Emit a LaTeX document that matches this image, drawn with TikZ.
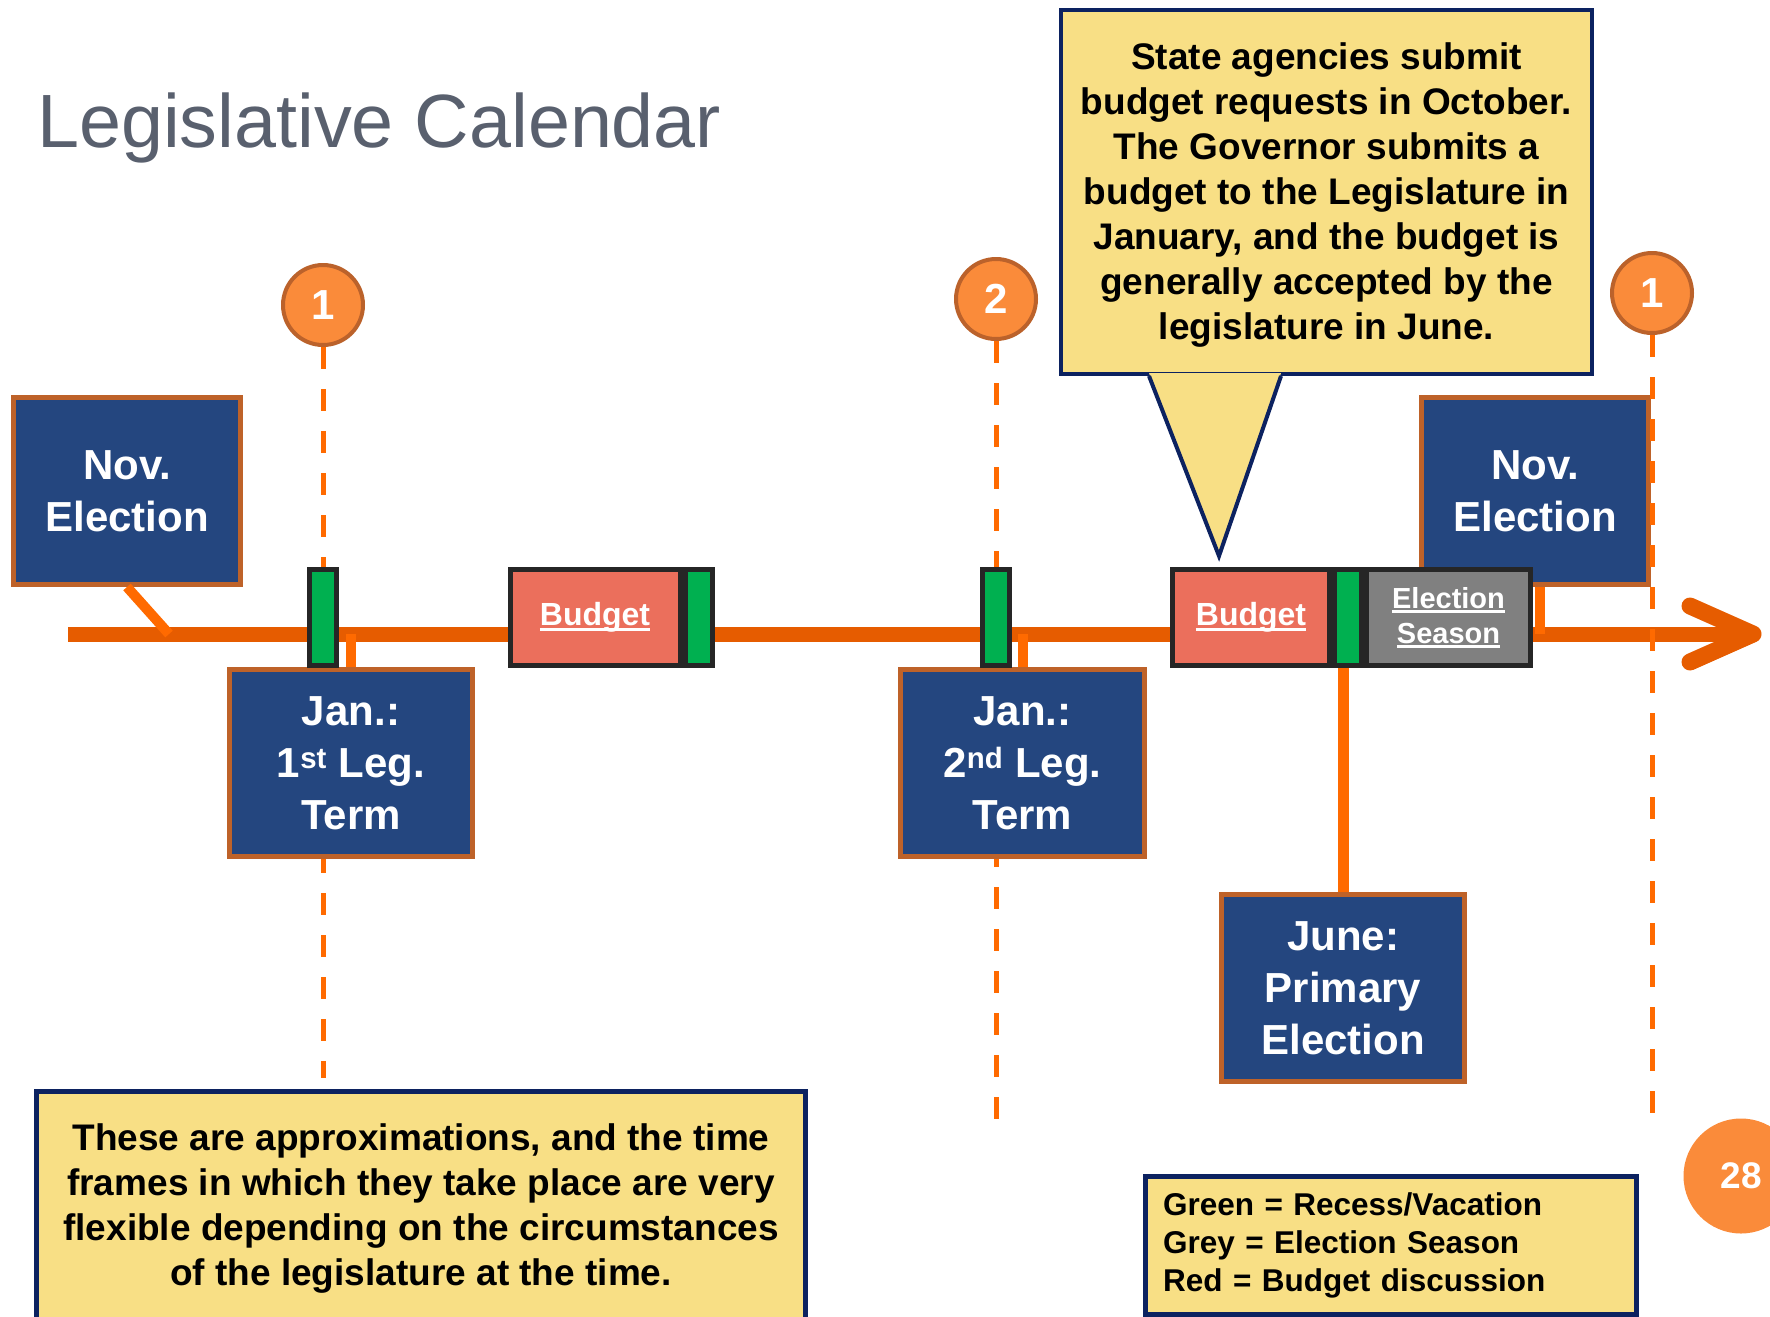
\documentclass[tikz,border=0pt]{standalone}
\usepackage{fontspec}
\setmainfont{Liberation Sans}
\usepackage{tikz}
\usetikzlibrary{positioning}

\definecolor{boxblue}{HTML}{24467F}
\definecolor{boxrim}{HTML}{BE6229}
\definecolor{lineorange}{HTML}{E65C00}
\definecolor{dashorange}{HTML}{FF6A00}
\definecolor{recessgreen}{HTML}{00B050}
\definecolor{budgetred}{HTML}{EB6F5C}
\definecolor{seasongrey}{HTML}{808080}
\definecolor{noteyellow}{HTML}{F8DF85}
\definecolor{notenavy}{HTML}{0C2260}
\definecolor{markorange}{HTML}{FA8B3A}
\definecolor{markrim}{HTML}{BB622B}
\definecolor{titlegrey}{HTML}{59606E}

% underlined label inside the coloured slots
\newcommand{\linktext}[1]{\setbox0=\hbox{#1}\rlap{\rule[-5pt]{\wd0}{3pt}}\box0}

\begin{document}
\begin{tikzpicture}[x=1pt,y=-1pt,
    event/.style={draw=boxrim,line width=5pt,fill=boxblue,text=white,align=center,
      font=\fontsize{42}{52}\selectfont\bfseries,minimum width=227,minimum height=187,inner sep=0pt},
    slot/.style={draw=black!85,line width=5pt,minimum height=96,inner sep=0pt,text=white,align=center},
    recess/.style={slot,fill=recessgreen,minimum width=27},
    daymark/.style={circle,draw=markrim,line width=4pt,fill=markorange,minimum size=80,inner sep=0pt,
      text=white,font=\fontsize{42}{42}\selectfont\bfseries},
    guide/.style={dashorange,line width=5pt,dash pattern=on 22pt off 20pt},
    stub/.style={dashorange,line width=10pt},
    timeline/.style={lineorange,line width=15pt},
    note/.style={draw=notenavy,line width=5pt,fill=noteyellow,inner sep=0pt,
      font=\fontsize{37}{45}\selectfont\bfseries}]
\useasboundingbox (0,0) rectangle (1770,1317);

\node[anchor=base west,inner sep=0pt,text=titlegrey,font=\fontsize{75.5}{75.5}\selectfont] (title) at (37,147) {Legislative Calendar};

% the time axis
\coordinate (tl0) at (68,634);
\coordinate (tl1) at (1753,634);
\coordinate (headtop) at (1690,606);
\coordinate (headbot) at (1690,662);
\draw[timeline] (tl0) -- (tl1);
\draw[timeline,line width=17pt,line cap=round,line join=round] (headtop) -- (tl1) -- (headbot);

% numbered markers and their guides
\node[daymark] (mark1) at (323,305) {1};
\node[daymark] (mark2) at (996,299) {2};
\node[daymark] (mark3) at (1652,293) {1};
\coordinate (foot1) at (323,1078);
\coordinate (foot2) at (996,1123);
\coordinate (foot3) at (1652,1121);
\draw[guide] (mark1) -- (foot1);
\draw[guide] (mark2) -- (foot2);

% first year
\node[event] (nov1) at (127,491) {Nov.\\Election};
\coordinate (nov1hit) at (169,634);
\draw[stub] (nov1.south) -- (nov1hit);
\node[event,minimum width=243] (jan1) at (351,763) {Jan.:\\1\textsuperscript{st} Leg.\\Term};
\draw[stub] (jan1.north) -- (jan1.north |- tl0);
\node[recess] (gap1) at (323,617.5) {};
\node[slot,fill=budgetred,minimum width=170,font=\fontsize{32}{38}\selectfont\bfseries] (budget1) at (595,617.5) {\linktext{Budget}};
\node[recess,right=0pt of budget1] (gap2) {};

% second year
\node[event,minimum width=244] (jan2) at (1022.5,763) {Jan.:\\2\textsuperscript{nd} Leg.\\Term};
\draw[stub] (jan2.north) -- (jan2.north |- tl0);
\node[recess] (gap3) at (996,617.5) {};
\node[event] (nov2) at (1535,491) {Nov.\\Election};
\draw[stub] ([xshift=5pt]nov2.south) -- ([xshift=5pt]nov2.south |- tl0);
\node[event,minimum width=243] (june) at (1343,988) {June:\\Primary\\Election};
\node[slot,fill=budgetred,minimum width=157,font=\fontsize{32}{38}\selectfont\bfseries] (budget2) at (1251,617.5) {\linktext{Budget}};
\node[recess,right=0pt of budget2] (gap4) {};
\draw[stub,line width=11pt] (june.north) -- (june.north |- gap4.south);
\node[slot,fill=seasongrey,minimum width=164,right=0pt of gap4,font=\fontsize{29}{35}\selectfont\bfseries] (season) {\linktext{Election}\\\linktext{Season}};
\node[recess] at (gap4) {};
\draw[guide] (mark3) -- (foot3);

% callout over the budget
\node[note,draw=notenavy,line width=4pt,minimum width=531,minimum height=364,align=center] (callout) at (1326.5,192)
  {\rule{0pt}{33pt}State agencies submit\\budget requests in October.\\The Governor submits a\\budget to the Legislature in\\January, and the budget is\\generally accepted by the\\legislature in June.};
\coordinate (tipL) at (1149,376);
\coordinate (tipR) at (1281,376);
\coordinate (tip) at (1219,556);
\fill[noteyellow] ([yshift=3pt]tipL) -- (tip) -- ([yshift=3pt]tipR) -- cycle;
\draw[notenavy,line width=4pt] (tipL) -- (tip) -- (tipR);

% notes at the foot
\node[note,anchor=north,align=center,minimum width=769,inner ysep=33pt] (note) at (421,1088.5)
  {These are approximations, and the time\\frames in which they take place are very\\flexible depending on the circumstances\\of the legislature at the time.};
\node[note,anchor=north west,align=left,text width=455,inner xsep=18pt,inner ysep=16pt,
  font=\fontsize{31.5}{38}\selectfont\bfseries] (legend) at (1142.5,1174)
  {Green = Recess/Vacation\\Grey = Election Season\\Red = Budget discussion};
\node[circle,fill=markorange,minimum size=115,inner sep=0pt,text=white,font=\fontsize{37}{37}\selectfont\bfseries] (page) at (1741,1176) {28};
\end{tikzpicture}
\end{document}
